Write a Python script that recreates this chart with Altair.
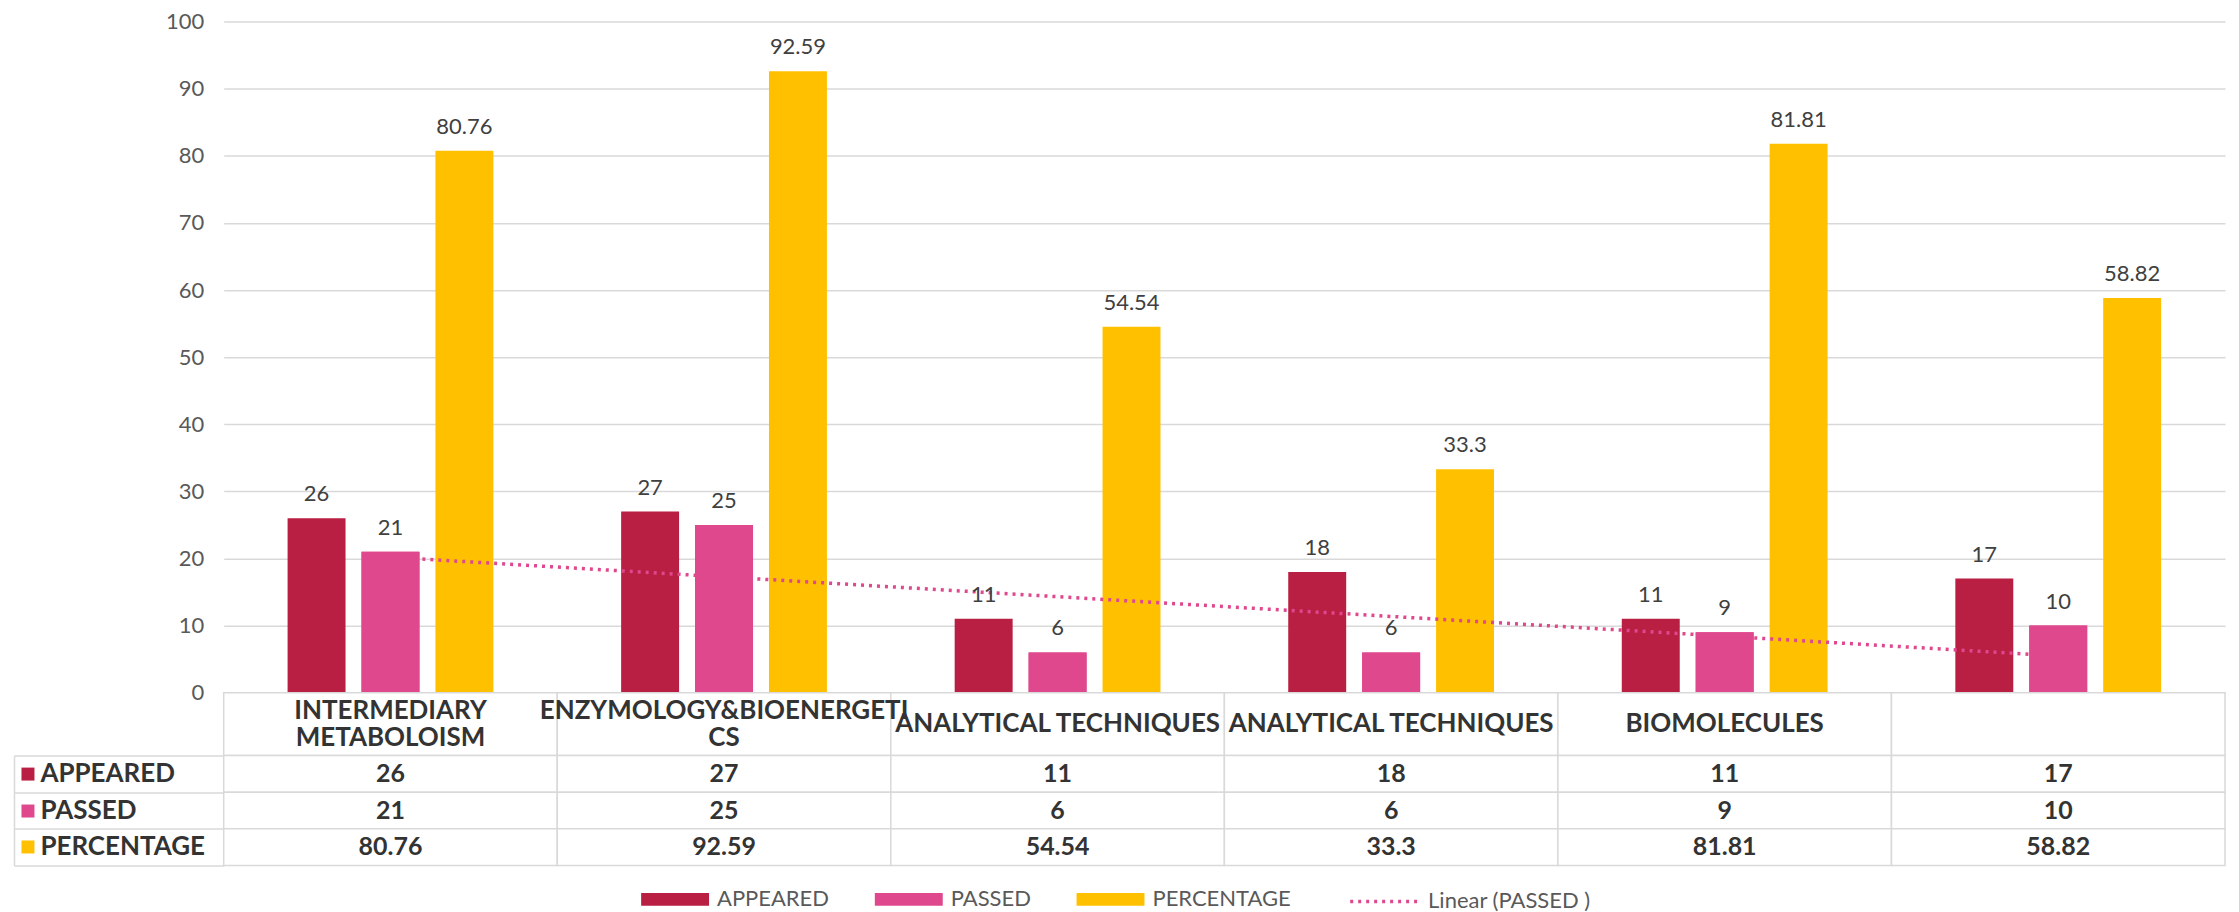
import altair as alt
import pandas as pd

# ---- data ----
categories = ["INTERMEDIARY\nMETABOLOISM", "ENZYMOLOGY&BIOENERGETI\nCS",
              "ANALYTICAL TECHNIQUES", "ANALYTICAL TECHNIQUES", "BIOMOLECULES", ""]
appeared = [26, 27, 11, 18, 11, 17]
passed = [21, 25, 6, 6, 9, 10]
percentage = [80.76, 92.59, 54.54, 33.3, 81.81, 58.82]
series_names = ["APPEARED", "PASSED", "PERCENTAGE"]
trend_name = "Linear (PASSED )"
series_colors = ["#b91e43", "#df488d", "#ffc000"]
trend_color = "#df488d"
y_ticks = list(range(0, 101, 10))

FONT = "Lato"
GRID = "#d9d9d9"
TXT = "#333333"

cols = list(range(1, len(categories) + 1))
values = {"APPEARED": appeared, "PASSED": passed, "PERCENTAGE": percentage}

long_df = pd.DataFrame([
    {"col": c, "series": s, "value": v, "label": f"{v:g}"}
    for s in series_names for c, v in zip(cols, values[s])
])
cat_df = pd.DataFrame({"col": cols, "name": categories})
rows_df = pd.DataFrame([
    {"col": c, "row": s, "text": f"{v:g}"}
    for s in series_names for c, v in zip(cols, values[s])
])

W = 2004
LEG_Y = 845
DASH = [3, 5]
LINE_H = 27

# ---- main chart ----
color_scale = alt.Scale(domain=series_names, range=series_colors)
legend = alt.Legend(
    orient="none", legendX=418, legendY=LEG_Y, direction="horizontal", title=None,
    symbolType="M-1,-0.19H1V0.19H-1Z", symbolSize=4624, symbolStrokeWidth=0,
    labelFont=FONT, labelFontSize=22, labelColor="#595959", labelLimit=0,
    labelOffset=8, columnPadding=45, padding=0,
)
trend_legend = alt.Legend(
    orient="none", legendX=1126, legendY=LEG_Y, direction="horizontal", title=None,
    symbolType="M-1,0H1", symbolSize=4624, symbolStrokeWidth=3.5, symbolDash=DASH,
    symbolStrokeColor=trend_color, labelLimit=0,
    labelFont=FONT, labelFontSize=22, labelColor="#595959",
    labelOffset=8, padding=0,
)

x_main = alt.X("col:O", axis=None, scale=alt.Scale(paddingInner=0.383, paddingOuter=0.1915))
x_off = alt.XOffset("series:N", scale=alt.Scale(domain=series_names, paddingInner=0.216, paddingOuter=0))
y_main = alt.Y("value:Q", scale=alt.Scale(domain=[0, 100], nice=False),
               axis=alt.Axis(values=y_ticks, grid=True, gridColor=GRID, gridWidth=1.5,
                             domain=False, ticks=False, labelFont=FONT, labelFontSize=22,
                             labelColor="#595959", labelPadding=20, title=None))
color = alt.Color("series:N", scale=color_scale, legend=legend)

base = alt.Chart(long_df)
bars = base.mark_bar().encode(x=x_main, xOffset=x_off, y=y_main, color=color)
trend = (base.transform_filter("datum.series === 'PASSED'")
         .transform_regression("col", "value", method="linear")
         .transform_calculate(trend=f"'{trend_name}'")
         .mark_line(strokeDash=DASH, strokeWidth=3.5)
         .encode(x=x_main, y=y_main,
                 stroke=alt.Stroke("trend:N", scale=alt.Scale(domain=[trend_name], range=[trend_color]),
                                   legend=trend_legend)))
pink_top = (base.transform_filter("datum.series === 'PASSED'")
            .mark_bar().encode(x=x_main, xOffset=x_off, y=y_main, color=color))
labels = base.mark_text(dy=-17, baseline="alphabetic", font=FONT, fontSize=22,
                        color="#404040").encode(x=x_main, xOffset=x_off, y=y_main,
                                                text="label:N")
main = alt.layer(bars, trend, pink_top, labels).properties(width=W, height=672)

# ---- table header row ----
band0 = alt.Scale(paddingInner=0, paddingOuter=0)
x_tab = alt.X("col:O", axis=None, scale=band0)
hbase = alt.Chart(cat_df)
h_rect = hbase.mark_rect(fill="white", stroke=GRID, strokeWidth=1.5).encode(x=x_tab)
h_style = dict(lineBreak="\n", font=FONT, fontSize=26, fontWeight="bold", color=TXT,
               lineHeight=LINE_H, baseline="middle")
h_text1 = (hbase.transform_filter("indexof(datum.name, '\\n') < 0")
           .mark_text(**h_style).encode(x=x_tab, text="name:N"))
h_text2 = (hbase.transform_filter("indexof(datum.name, '\\n') >= 0")
           .mark_text(dy=-LINE_H / 2, **h_style).encode(x=x_tab, text="name:N"))
header = alt.layer(h_rect, h_text1, h_text2).properties(width=W, height=63)

# ---- table value rows ----
rbase = alt.Chart(rows_df)
axis_lines = alt.Axis(orient="left", offset=0, tickBand="extent", tickSize=210,
                      tickColor=GRID, tickWidth=1.5, labels=False, domain=False,
                      grid=False, title=None)
axis_labels = alt.Axis(orient="left", offset=190, tickSize=13, tickWidth=13,
                       tickColor={"condition": [
                           {"test": "datum.value === 'APPEARED'", "value": series_colors[0]},
                           {"test": "datum.value === 'PASSED'", "value": series_colors[1]}],
                           "value": series_colors[2]},
                       labelAlign="left", labelPadding=-19, labelFont=FONT,
                       labelFontSize=26, labelFontWeight="bold", labelColor=TXT,
                       labelBaseline="middle", domain=False, grid=False, title=None)
axis_border = alt.Axis(orient="left", offset=210, domain=True, domainColor=GRID,
                       domainWidth=1.5, ticks=False, labels=False, grid=False, title=None)
r_rect = rbase.mark_rect(fill="white", stroke=GRID, strokeWidth=1.5).encode(
    x=x_tab, y=alt.Y("row:N", sort=series_names, scale=band0, axis=axis_lines))
r_text = rbase.mark_text(font=FONT, fontSize=25, fontWeight="bold", color=TXT).encode(
    x=x_tab, y=alt.Y("row:N", sort=series_names, scale=band0, axis=axis_labels),
    text="text:N")
r_border = rbase.mark_rect(opacity=0).encode(
    x=x_tab, y=alt.Y("row:N", sort=series_names, scale=band0, axis=axis_border))
rows = alt.layer(r_rect, r_text, r_border).resolve_axis(y="independent").properties(
    width=W, height=110)

chart = (alt.vconcat(main, header, rows, spacing=0, bounds="flush")
         .resolve_scale(x="independent", y="independent")
         .configure_view(strokeWidth=0)
         .properties(padding={"left": 5, "top": 2, "right": 5, "bottom": 0}))

chart.save("out.html", embed_options={"renderer": "svg", "actions": False})
